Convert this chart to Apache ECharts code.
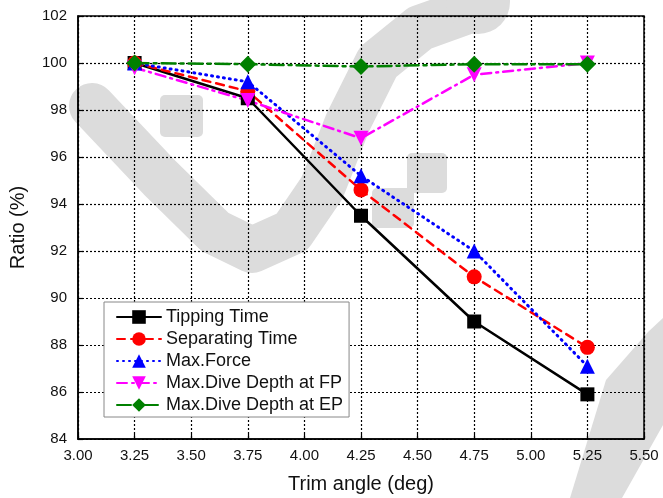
<!DOCTYPE html>
<html>
<head>
<meta charset="utf-8">
<script src="https://cdn.jsdelivr.net/npm/echarts@6/dist/echarts.min.js"></script>
<style>
  html, body { margin: 0; padding: 0; background: #fff; }
  #chart { width: 663px; height: 498px; }
</style>
</head>
<body>
<div id="chart"></div>
<script>
// Trim angle (deg)
const trimAngles = [3.25, 3.75, 4.25, 4.75, 5.25];

// Ratio (%) for each quantity
const tippingTime = [100.0, 98.5, 93.5, 89.0, 85.9];
const separatingTime = [100.0, 98.8, 94.6, 90.9, 87.9];
const maxForce = [100.0, 99.2, 95.2, 92.0, 87.1];
const diveDepthFP = [99.8, 98.4, 96.8, 99.5, 100.0];
const diveDepthEP = [100.0, 99.95, 99.85, 99.95, 99.95];

const seriesNames = [
  'Tipping Time',
  'Separating Time',
  'Max.Force',
  'Max.Dive Depth at FP',
  'Max.Dive Depth at EP'
];

const font = 'Liberation Sans, Arial, sans-serif';

function pairs(ys) {
  return trimAngles.map((x, i) => [x, ys[i]]);
}

function makeSeries(name, ys, color, dash, symbol, size, width) {
  return {
    name: name,
    type: 'line',
    data: pairs(ys),
    symbol: symbol,
    symbolSize: size,
    itemStyle: { color: color },
    lineStyle: { color: color, width: width, type: dash, cap: 'round' },
    emphasis: { disabled: true },
    animation: false
  };
}

const chart = echarts.init(document.getElementById('chart'), null, { renderer: 'canvas' });

chart.setOption({
  backgroundColor: '#ffffff',
  animation: false,
  graphic: [
    // faint background mark
    {
      type: 'polyline', z: -10, silent: true,
      shape: { points: [[92, 106], [160, 178], [215, 232], [252, 250], [292, 232], [322, 188], [348, 122], [378, 62], [420, 28], [470, 10]] },
      style: { stroke: '#dcdcdc', lineWidth: 46, fill: null, lineCap: 'round', lineJoin: 'round' }
    },
    {
      type: 'rect', z: -10, silent: true,
      shape: { x: 160, y: 95, width: 43, height: 42, r: 5 },
      style: { fill: '#dcdcdc' }
    },
    {
      type: 'rect', z: -10, silent: true,
      shape: { x: 407, y: 153, width: 40, height: 40, r: 5 },
      style: { fill: '#dcdcdc' }
    },
    {
      type: 'rect', z: -10, silent: true,
      shape: { x: 372, y: 188, width: 42, height: 40, r: 5 },
      style: { fill: '#dcdcdc' }
    },
    {
      type: 'circle', z: -10, silent: true,
      shape: { cx: 478, cy: 2, r: 32 },
      style: { fill: '#dcdcdc' }
    },
    {
      type: 'polygon', z: -10, silent: true,
      shape: { points: [[648, 332], [663, 318], [663, 425], [622, 498], [570, 498], [606, 380]] },
      style: { fill: '#dcdcdc' }
    }
  ],
  grid: {
    left: 78, right: 19, top: 16, bottom: 59,
    containLabel: false,
    outerBoundsMode: 'none',
    show: true, borderColor: '#000', borderWidth: 1.5, backgroundColor: 'transparent'
  },
  legend: {
    orient: 'vertical',
    left: 104,
    top: 302,
    data: seriesNames,
    itemWidth: 44,
    itemHeight: 17,
    itemGap: 4,
    padding: [6, 6, 3, 12],
    backgroundColor: '#fff',
    borderColor: '#888',
    borderWidth: 1,
    borderRadius: 0,
    textStyle: { fontFamily: font, fontSize: 18, color: '#111', lineHeight: 17 },
    selectedMode: false,
    z: 10
  },
  xAxis: {
    type: 'value',
    min: 3.0,
    max: 5.5,
    interval: 0.25,
    name: 'Trim angle (deg)',
    nameLocation: 'middle',
    nameGap: 35,
    nameTextStyle: { fontFamily: font, fontSize: 20, color: '#111' },
    axisLine: { lineStyle: { color: '#000', width: 1.5 } },
    axisTick: { inside: true, length: 5, lineStyle: { color: '#000', width: 1.2 } },
    axisLabel: {
      fontFamily: font, fontSize: 15, color: '#111', margin: 9,
      formatter: v => v.toFixed(2)
    },
    splitLine: { show: true, lineStyle: { color: '#000', width: 1.2, type: [2, 2] } }
  },
  yAxis: {
    type: 'value',
    min: 84,
    max: 102,
    interval: 2,
    name: 'Ratio (%)',
    nameLocation: 'middle',
    nameGap: 50,
    nameTextStyle: { fontFamily: font, fontSize: 20, color: '#111' },
    axisLine: { lineStyle: { color: '#000', width: 1.5 } },
    axisTick: { inside: true, length: 5, lineStyle: { color: '#000', width: 1.2 } },
    axisLabel: { fontFamily: font, fontSize: 15, color: '#111', margin: 11 },
    splitLine: { show: true, lineStyle: { color: '#000', width: 1.2, type: [2, 2] } }
  },
  series: [
    makeSeries(seriesNames[0], tippingTime, '#000000', 'solid', 'rect', 14, 2.5),
    makeSeries(seriesNames[1], separatingTime, '#ff0000', [8, 6], 'circle', 15, 2.5),
    makeSeries(seriesNames[2], maxForce, '#0000ff', [1, 5], 'triangle', 15, 3),
    makeSeries(seriesNames[3], diveDepthFP, '#ff00ff', [10, 5, 2, 5], 'path://M0,0 L10,0 L5,9 Z', 15, 2.5),
    makeSeries(seriesNames[4], diveDepthEP, '#008000', [14, 5, 3, 5], 'diamond', 17, 2.5)
  ]
});
</script>
</body>
</html>
